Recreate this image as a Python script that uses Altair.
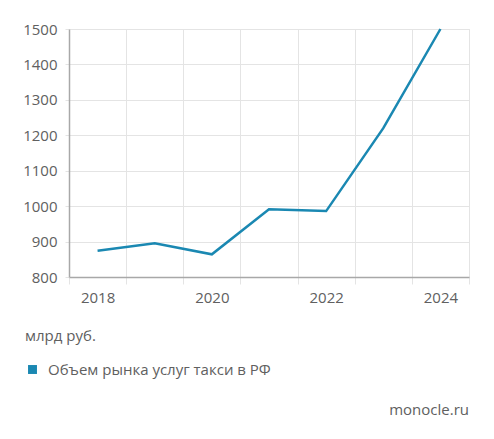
import altair as alt
import pandas as pd

years = ["2018", "2019", "2020", "2021", "2022", "2023", "2024"]
values = [874, 895, 864, 991, 986, 1220, 1500]
series_name = "Объем рынка услуг такси в РФ"
unit_label = "млрд руб."
source_label = "monocle.ru"

df = pd.DataFrame({"year": years, "value": values, "series": [series_name] * len(years)})

FONT = "Open Sans"
TXT = "#606060"

line = alt.Chart(df).mark_line(strokeWidth=2.5, color="#1b7fa5").encode(
    x=alt.X(
        "year:O",
        scale=alt.Scale(paddingInner=0, paddingOuter=0),
        axis=alt.Axis(
            title=None,
            labelAngle=0,
            tickBand="extent",
            labelExpr="toNumber(datum.value) % 2 == 0 ? datum.label : ''",
            grid=True,
            gridColor="#e4e4e4",
            domainColor="#a8a8a8",
            domainWidth=1.5,
            tickColor="#e4e4e4",
            tickSize=7,
            labelPadding=6,
            labelFontSize=15,
            labelColor=TXT,
            labelFont=FONT,
        ),
    ),
    y=alt.Y(
        "value:Q",
        scale=alt.Scale(domain=[800, 1500], nice=False, zero=False),
        axis=alt.Axis(
            title=None,
            format="d",
            values=[800, 900, 1000, 1100, 1200, 1300, 1400, 1500],
            gridColor="#e4e4e4",
            domainColor="#a8a8a8",
            domainWidth=1.5,
            tickColor="#e4e4e4",
            tickSize=4,
            labelPadding=8,
            labelFontSize=15,
            labelColor=TXT,
            labelFont=FONT,
        ),
    ),
    color=alt.Color(
        "series:N",
        scale=alt.Scale(range=["#1a88b2"]),
        legend=alt.Legend(
            title=None,
            orient="none",
            legendX=-44,
            legendY=333,
            symbolType="square",
            symbolSize=80,
            symbolFillColor="#1a88b2",
            symbolStrokeColor="#1a88b2",
            symbolStrokeWidth=0,
            labelFontSize=15,
            labelColor=TXT,
            labelFont=FONT,
            labelOffset=8,
            labelLimit=0,
            padding=0,
        ),
    ),
)

unit = alt.Chart(pd.DataFrame({"t": [unit_label]})).mark_text(
    align="left", baseline="middle", fontSize=15, font=FONT, color=TXT
).encode(text="t:N", x=alt.value(-44), y=alt.value(307))

source = alt.Chart(pd.DataFrame({"t": [source_label]})).mark_text(
    align="right", baseline="middle", fontSize=15, font=FONT, color=TXT
).encode(text="t:N", x=alt.value(400), y=alt.value(381))

chart = alt.layer(line, unit, source).properties(
    width=400,
    height=248,
    autosize=alt.AutoSizeParams(type="none"),
    padding={"left": 61, "top": 21, "right": 17, "bottom": 162},
).configure_view(stroke=None).configure(background="white")

chart.save("out.html", embed_options={"renderer": "svg", "actions": False})
